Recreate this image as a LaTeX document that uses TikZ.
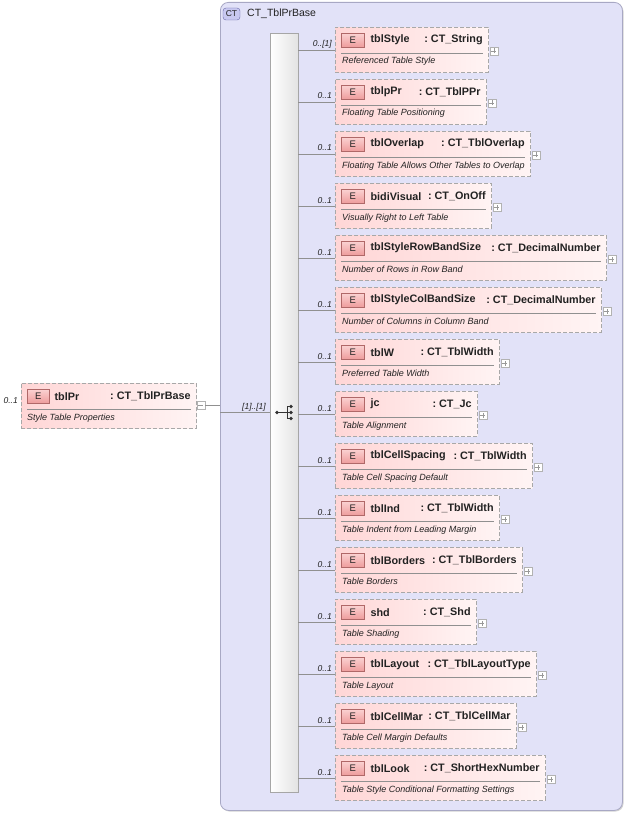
\documentclass[tikz,border=0pt]{standalone}
\usepackage{fontspec}
\setmainfont{Liberation Sans}
\definecolor{ctfill}{HTML}{E2E2F8}
\definecolor{ctdraw}{HTML}{A8A8C4}
\definecolor{ctbadge}{HTML}{C8C8F0}
\definecolor{ctbadgedraw}{HTML}{6868A8}
\definecolor{elemL}{HTML}{FFD6D6}
\definecolor{elemR}{HTML}{FFF4F4}
\definecolor{dashgray}{HTML}{A8A8A8}
\definecolor{badgeT}{HTML}{FBD2D2}
\definecolor{badgeB}{HTML}{EE9C9C}
\definecolor{badgeDraw}{HTML}{B06868}
\definecolor{linegray}{HTML}{909090}
\definecolor{txt}{HTML}{222222}
\tikzset{
  elembox/.style={draw=dashgray, dash pattern=on 4pt off 2pt, left color=elemL, right color=elemR, inner sep=0pt, line width=0.8pt},
  ebadge/.style={draw=badgeDraw, top color=badgeT, bottom color=badgeB, minimum width=23pt, minimum height=14pt, inner sep=0pt, font=\fontsize{9.5}{10}\selectfont, text=txt},
  nametext/.style={font=\bfseries\fontsize{10.8}{12}\selectfont, inner sep=0pt, text=txt},
  desctext/.style={font=\itshape\fontsize{9}{10}\selectfont, inner sep=0pt, text=txt},
  cardtext/.style={font=\itshape\fontsize{8.5}{9}\selectfont, inner sep=0pt, text=txt},
  sepline/.style={draw=linegray, line width=0.6pt},
  conn/.style={draw=linegray, line width=0.7pt},
  pmbox/.style={draw=gray!60, fill=white, minimum size=8pt, inner sep=0pt},
  pmsign/.style={draw=gray!80, line width=0.5pt},
}
\newcommand\childel[7]{%
  \node[elembox, minimum width=#3pt, minimum height=45pt, anchor=north west] (#1) at (335,#2) {};
  \node[ebadge, anchor=north west] (#1b) at ([xshift=6pt,yshift=-6pt]#1.north west) {E};
  \node[nametext, anchor=west] (#1n) at ([xshift=6pt]#1b.east) {#4};
  \node[nametext, anchor=east, xshift=-6pt] (#1t) at (#1b.center -| #1.east) {:\ #5};
  \draw[sepline] ([xshift=6pt,yshift=-26pt]#1.north west) -- ([xshift=-6pt,yshift=-26pt]#1.north east);
  \node[desctext, anchor=base west] (#1d) at ([xshift=7pt,yshift=-37pt]#1.north west) {#6};
  \node[pmbox] (#1p) at ([xshift=5pt,yshift=-24pt]#1.north east) {};
  \draw[pmsign] ([xshift=-2.5pt]#1p.center) -- ([xshift=2.5pt]#1p.center);
  \draw[pmsign] ([yshift=-2.5pt]#1p.center) -- ([yshift=2.5pt]#1p.center);
  \draw[conn] (#1.west -| bar.east) -- (#1.west);
  \node[cardtext, anchor=base east] (#1c) at ([xshift=-3pt,yshift=-20pt]#1.north west) {#7};
}
\begin{document}
\begin{tikzpicture}[x=1pt,y=-1pt]
\useasboundingbox (0,0) rectangle (626,813);
% outer complex type box
\fill[gray!35, rounded corners=8pt] (221.5,3.5) rectangle (623.5,811.5);
\node[draw=ctdraw, fill=ctfill, rounded corners=8pt, minimum width=402pt, minimum height=808pt, anchor=north west, inner sep=0pt, line width=0.8pt] (ct) at (220,2) {};
\node[draw=ctbadgedraw, fill=ctbadge, rounded corners=3pt, minimum width=17pt, minimum height=12pt, inner sep=0pt, font=\fontsize{8.5}{9}\selectfont, text=txt] (ctb) at (231.5,14) {CT};
\node[font=\fontsize{10.5}{12}\selectfont, anchor=west, inner sep=0pt, text=txt] (ctname) at (247,14) {CT\_TblPrBase};
% sequence bar
\node[draw=gray!70, left color=white, right color=gray!22, minimum width=28pt, minimum height=759pt, anchor=north west, inner sep=0pt] (bar) at (270,33) {};
% sequence icon
\coordinate (sq) at (283,412.5);
\fill[black!80] ([xshift=-6pt]sq) circle (1.8pt);
\draw[black!80, line width=0.8pt] ([xshift=-6pt]sq) -- ([xshift=4pt]sq);
\draw[black!80, line width=0.8pt] ([xshift=4pt,yshift=6pt]sq) -- ([xshift=4pt,yshift=-6pt]sq);
\foreach \dy in {6,0,-6} {
  \draw[black!80, line width=0.8pt] ([xshift=4pt,yshift=\dy pt]sq) -- ([xshift=8pt,yshift=\dy pt]sq);
  \fill[black!80] ([xshift=8pt,yshift=\dy pt]sq) circle (1.8pt);
}
% left element
\node[elembox, minimum width=175pt, minimum height=45pt, anchor=north west] (el) at (21,383) {};
\node[ebadge, anchor=north west, minimum width=22pt] (elb) at ([xshift=6pt,yshift=-6pt]el.north west) {E};
\node[nametext, anchor=west] (eln) at ([xshift=5pt]elb.east) {tblPr};
\node[nametext, anchor=east, xshift=-6pt] (elt) at (elb.center -| el.east) {:\ CT\_TblPrBase};
\draw[sepline] ([xshift=6pt,yshift=-26pt]el.north west) -- ([xshift=-6pt,yshift=-26pt]el.north east);
\node[desctext, anchor=base west] (eld) at ([xshift=6pt,yshift=-37pt]el.north west) {Style Table Properties};
\node[pmbox] (elp) at ([xshift=4pt,yshift=-22pt]el.north east) {};
\draw[pmsign] ([xshift=-2.5pt]elp.center) -- ([xshift=2.5pt]elp.center);
\node[cardtext, anchor=base east] (elc) at ([xshift=-3pt,yshift=-20pt]el.north west) {0..1};
\draw[conn] (elp.east) -- (elp.east -| ct.west);
\draw[conn] (bar.west -| ct.west) -- (bar.west);
\node[cardtext, anchor=base east] (seqc) at (266,409) {[1]..[1]};
% children
\childel{c1}{27}{153}{tblStyle}{CT\_String}{Referenced Table Style}{0..[1]}
\childel{c2}{79}{151}{tblpPr}{CT\_TblPPr}{Floating Table Positioning}{0..1}
\childel{c3}{131}{195}{tblOverlap}{CT\_TblOverlap}{Floating Table Allows Other Tables to Overlap}{0..1}
\childel{c4}{183}{156}{bidiVisual}{CT\_OnOff}{Visually Right to Left Table}{0..1}
\childel{c5}{235}{271}{tblStyleRowBandSize}{CT\_DecimalNumber}{Number of Rows in Row Band}{0..1}
\childel{c6}{287}{266}{tblStyleColBandSize}{CT\_DecimalNumber}{Number of Columns in Column Band}{0..1}
\childel{c7}{339}{164}{tblW}{CT\_TblWidth}{Preferred Table Width}{0..1}
\childel{c8}{391}{142}{jc}{CT\_Jc}{Table Alignment}{0..1}
\childel{c9}{443}{197}{tblCellSpacing}{CT\_TblWidth}{Table Cell Spacing Default}{0..1}
\childel{c10}{495}{164}{tblInd}{CT\_TblWidth}{Table Indent from Leading Margin}{0..1}
\childel{c11}{547}{187}{tblBorders}{CT\_TblBorders}{Table Borders}{0..1}
\childel{c12}{599}{141}{shd}{CT\_Shd}{Table Shading}{0..1}
\childel{c13}{651}{201}{tblLayout}{CT\_TblLayoutType}{Table Layout}{0..1}
\childel{c14}{703}{181}{tblCellMar}{CT\_TblCellMar}{Table Cell Margin Defaults}{0..1}
\childel{c15}{755}{210}{tblLook}{CT\_ShortHexNumber}{Table Style Conditional Formatting Settings}{0..1}
\end{tikzpicture}
\end{document}
